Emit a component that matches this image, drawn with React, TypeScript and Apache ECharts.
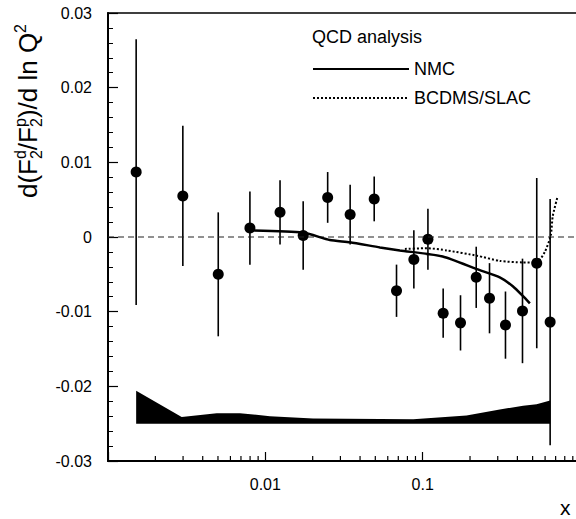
import React, { useEffect, useRef } from 'react';
import * as echarts from 'echarts';

// measured points
const pointX = [0.00151, 0.00299, 0.00502, 0.00798, 0.0124, 0.0174, 0.0249, 0.0346, 0.0492, 0.0682, 0.0879, 0.108, 0.135, 0.174, 0.219, 0.266, 0.336, 0.431, 0.531, 0.646];
const pointY = [0.0087, 0.0055, -0.0050, 0.0012, 0.0033, 0.0002, 0.0053, 0.0030, 0.0051, -0.0072, -0.0030, -0.0003, -0.0102, -0.0115, -0.0054, -0.0082, -0.0118, -0.0099, -0.0035, -0.0114];
const pointErr = [0.0178, 0.0094, 0.0083, 0.0049, 0.0043, 0.0046, 0.0034, 0.0040, 0.0030, 0.0035, 0.0039, 0.0041, 0.0033, 0.0037, 0.0041, 0.0047, 0.0045, 0.0070, 0.0114, 0.0165];

// QCD curves
const nmcX = [0.00798, 0.0173, 0.0257, 0.0345, 0.0535, 0.0716, 0.134, 0.221, 0.309, 0.374, 0.433, 0.480];
const nmcY = [0.0009, 0.0006, -0.0004, -0.0007, -0.0014, -0.0018, -0.0026, -0.0043, -0.0054, -0.0066, -0.0079, -0.0089];
const bcX = [0.0771, 0.1065, 0.1425, 0.221, 0.309, 0.433, 0.532, 0.598, 0.652, 0.671, 0.722];
const bcY = [-0.0016, -0.0015, -0.0018, -0.0025, -0.0032, -0.0034, -0.0034, -0.0020, 0.0002, 0.0028, 0.0055];

// systematic error band
const bandX = [0.00151, 0.00294, 0.00491, 0.0069, 0.0107, 0.0201, 0.0871, 0.190, 0.309, 0.435, 0.530, 0.646];
const bandTop = [-0.0206, -0.0241, -0.0236, -0.0236, -0.0240, -0.0243, -0.0244, -0.0239, -0.0231, -0.0226, -0.0224, -0.0219];
const bandBottom = [-0.0250, -0.0250, -0.0250, -0.0250, -0.0250, -0.0250, -0.0250, -0.0250, -0.0250, -0.0250, -0.0250, -0.0250];

// zero reference line ends
const zeroLineX = [0.001, 1];
const zeroLineY = [0, 0];

const minorTickX = [0.002, 0.003, 0.004, 0.005, 0.006, 0.007, 0.008, 0.009, 0.02, 0.03, 0.04, 0.05, 0.06, 0.07, 0.08, 0.09, 0.2, 0.3, 0.4, 0.5, 0.6, 0.7, 0.8, 0.9];

const FONT = '"Liberation Sans", Arial, Helvetica, sans-serif';

export default function App() {
  const ref = useRef<HTMLDivElement>(null);
  useEffect(() => {
    const chart = echarts.init(ref.current as HTMLDivElement, null, { renderer: 'svg' });
    chart.setOption({
      animation: false,
      grid: {
        left: 108, right: -4, top: 13, bottom: 58,
        outerBoundsMode: 'none', containLabel: false,
        show: true, borderColor: '#000', borderWidth: 1.5,
      },
      xAxis: {
        type: 'log',
        logBase: 10,
        min: 0.001,
        max: 1,
        axisLine: { onZero: false, lineStyle: { color: '#000', width: 2 } },
        axisTick: { inside: true, length: 9, lineStyle: { color: '#000', width: 1.2 } },
        axisLabel: {
          margin: 15,
          color: '#000',
          fontSize: 16,
          fontFamily: FONT,
          hideOverlap: false,
          formatter: (v: number) => {
            const lg = Math.round(Math.log10(v));
            if (lg <= -3) return '';
            return String(Number(Math.pow(10, lg).toFixed(lg < 0 ? -lg : 0)));
          },
        },
        splitLine: { show: false },
      },
      yAxis: {
        type: 'value',
        min: -0.03,
        max: 0.03,
        interval: 0.01,
        axisLine: { onZero: false, lineStyle: { color: '#000', width: 2 } },
        axisTick: { inside: true, length: 10, lineStyle: { color: '#000', width: 1.2 } },
        minorTick: { show: true, splitNumber: 5, length: 5, lineStyle: { color: '#000', width: 1 } },
        axisLabel: {
          margin: 16,
          color: '#000',
          fontSize: 16,
          fontFamily: FONT,
          formatter: (v: number) => (Math.abs(v) < 1e-9 ? '0' : v.toFixed(2)),
        },
        splitLine: { show: false },
      },
      legend: {
        data: ['NMC', 'BCDMS/SLAC'],
        orient: 'vertical',
        left: 312,
        top: 60,
        padding: 0,
        itemWidth: 96,
        itemHeight: 14,
        itemGap: 11,
        itemStyle: { opacity: 0 },
        textStyle: { fontSize: 18, fontFamily: FONT, color: '#000' },
      },
      graphic: [
        {
          type: 'text',
          left: 312,
          top: 28,
          style: { text: 'QCD analysis', fontSize: 18, fontFamily: FONT, fill: '#000' },
        },
        {
          type: 'text',
          x: 28,
          y: 111,
          rotation: Math.PI / 2,
          style: {
            text: '{a|d(F}{s|2}{p|d}{a|/F}{s|2}{p|p}{a|)/d ln Q}{p|2}',
            align: 'center',
            verticalAlign: 'middle',
            fill: '#000',
            rich: {
              a: { fontSize: 26, fontFamily: FONT, lineHeight: 32, fill: '#000', align: 'left' },
              s: { fontSize: 16, fontFamily: FONT, lineHeight: 17, fill: '#000', verticalAlign: 'bottom', align: 'left', width: 0 },
              p: { fontSize: 16, fontFamily: FONT, lineHeight: 17, fill: '#000', verticalAlign: 'top', align: 'left' },
            },
          },
        },
        {
          type: 'text',
          x: 560,
          y: 518,
          style: { text: 'x', fontSize: 21, fontFamily: FONT, fill: '#000', verticalAlign: 'bottom' },
        },
      ],
      series: [
        {
          name: 'band',
          type: 'custom',
          data: [[bandX[0], bandTop[0]]],
          encode: { x: 0, y: 1 },
          renderItem: (_p: any, api: any) => {
            const pts: number[][] = [];
            for (let i = 0; i < bandX.length; i++) pts.push(api.coord([bandX[i], bandTop[i]]));
            for (let i = bandX.length - 1; i >= 0; i--) pts.push(api.coord([bandX[i], bandBottom[i]]));
            return { type: 'polygon', shape: { points: pts }, style: { fill: '#000' } };
          },
          silent: true,
        },
        {
          name: 'zero',
          type: 'line',
          data: zeroLineX.map((x, i) => [x, zeroLineY[i]]),
          symbol: 'none',
          showSymbol: false,
          silent: true,
          lineStyle: { color: '#222', width: 1.1, type: [6, 4] },
        },
        {
          name: 'minorTicks',
          type: 'custom',
          data: minorTickX.map((x) => [x, -0.03]),
          encode: { x: 0, y: 1 },
          renderItem: (_p: any, api: any) => {
            const p = api.coord([api.value(0), api.value(1)]);
            return {
              type: 'line',
              shape: { x1: p[0], y1: p[1], x2: p[0], y2: p[1] - 5 },
              style: { stroke: '#000', lineWidth: 1.2 },
            };
          },
          silent: true,
        },
        {
          name: 'NMC',
          type: 'line',
          data: nmcX.map((x, i) => [x, nmcY[i]]),
          symbol: 'none',
          showSymbol: false,
          smooth: 0.2,
          lineStyle: { color: '#000', width: 2.5, type: 'solid' },
          itemStyle: { color: '#000' },
        },
        {
          name: 'BCDMS/SLAC',
          type: 'line',
          data: bcX.map((x, i) => [x, bcY[i]]),
          symbol: 'none',
          showSymbol: false,
          smooth: 0.2,
          lineStyle: { color: '#000', width: 2, type: 'dotted' },
          itemStyle: { color: '#000' },
        },
        {
          name: 'errors',
          type: 'custom',
          data: pointX.map((x, i) => [x, pointY[i] - pointErr[i], pointY[i] + pointErr[i]]),
          encode: { x: 0, y: [1, 2] },
          renderItem: (_p: any, api: any) => {
            const lo = api.coord([api.value(0), api.value(1)]);
            const hi = api.coord([api.value(0), api.value(2)]);
            return {
              type: 'line',
              shape: { x1: lo[0], y1: lo[1], x2: hi[0], y2: hi[1] },
              style: { stroke: '#000', lineWidth: 1.6 },
            };
          },
          silent: true,
        },
        {
          name: 'data',
          type: 'scatter',
          data: pointX.map((x, i) => [x, pointY[i]]),
          symbol: 'circle',
          symbolSize: 11,
          itemStyle: { color: '#000', opacity: 1 },
        },
      ],
    });
    return () => chart.dispose();
  }, []);
  return <div ref={ref} style={{ position: 'absolute', left: 0, top: 0, width: 576, height: 519 }} />;
}
